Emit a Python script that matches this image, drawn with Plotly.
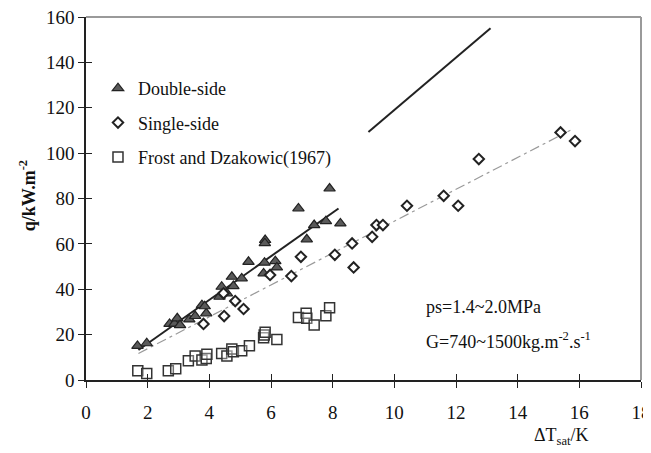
import plotly.graph_objects as go

# ---- data ----
double_x = [1.67, 1.97, 2.71, 2.87, 2.96, 3.05, 3.35, 3.54, 3.76, 3.90, 3.85, 4.33, 4.40, 4.57,
            4.73, 4.78, 5.05, 5.27, 5.76, 5.79, 5.81, 5.80, 6.14, 6.19, 6.89, 7.16, 7.40, 7.78,
            7.90, 8.25]
double_y = [15.0, 16.2, 24.7, 24.9, 27.2, 24.2, 26.7, 28.2, 33.0, 29.4, 32.5, 36.7, 41.1, 38.2,
            45.5, 41.4, 44.8, 52.1, 47.0, 51.7, 61.7, 60.3, 52.4, 49.6, 75.6, 62.0, 68.3, 70.0,
            84.4, 69.0]

single_x = [3.81, 4.48, 4.46, 4.84, 5.11, 5.97, 6.66, 6.97, 8.07, 8.63, 8.68, 9.28, 9.42, 9.63,
            10.41, 11.60, 12.07, 12.74, 15.39, 15.86]
single_y = [24.7, 28.2, 38.2, 34.8, 31.3, 46.3, 45.8, 54.3, 55.2, 60.2, 49.6, 63.1, 68.3, 68.3,
            76.8, 81.2, 76.8, 97.4, 109.1, 105.3]

frost_x = [1.68, 1.97, 2.67, 2.91, 3.32, 3.54, 3.76, 3.90, 3.92, 4.40, 4.57, 4.73, 4.78, 5.05,
           5.30, 5.76, 5.78, 5.81, 6.19, 6.89, 7.14, 7.16, 7.40, 7.78, 7.90]
frost_y = [4.1, 2.9, 4.1, 5.0, 8.5, 10.6, 8.8, 9.5, 11.3, 11.7, 10.6, 13.7, 12.5, 12.9,
           15.1, 18.6, 19.8, 21.0, 17.9, 27.6, 29.4, 27.2, 24.2, 28.3, 31.9]

double_fit_x = [1.70, 8.19]
double_fit_y = [13.2, 75.6]
single_fit_x = [1.70, 15.71]
single_fit_y = [11.7, 110.1]
corr_x = [9.16, 13.12]
corr_y = [109.3, 155.0]

x_ticks = [0, 2, 4, 6, 8, 10, 12, 14, 16, 18]
y_ticks = [0, 20, 40, 60, 80, 100, 120, 140, 160]

FONT = "Liberation Serif"

fig = go.Figure()

fig.add_trace(go.Scatter(x=double_fit_x, y=double_fit_y, mode="lines",
                         line=dict(color="#222", width=2), showlegend=False))
fig.add_trace(go.Scatter(x=single_fit_x, y=single_fit_y, mode="lines",
                         line=dict(color="#9a9a9a", width=1.2, dash="10px,4px,3px,4px"),
                         showlegend=False))
fig.add_trace(go.Scatter(x=corr_x, y=corr_y, mode="lines",
                         line=dict(color="#222", width=2), showlegend=False))

fig.add_trace(go.Scatter(x=double_x, y=double_y, mode="markers", name="Double-side",
                         legendgroup="a",
                         marker=dict(symbol="triangle-up", size=10, color="#5a5a5a",
                                     line=dict(color="#222", width=1.2))))
fig.add_trace(go.Scatter(x=single_x, y=single_y, mode="markers", name="Single-side",
                         legendgroup="b",
                         marker=dict(symbol="diamond", size=8, color="white",
                                     line=dict(color="#222", width=2))))
fig.add_trace(go.Scatter(x=frost_x, y=frost_y, mode="markers", name="Frost and Dzakowic(1967)",
                         legendgroup="c",
                         marker=dict(symbol="square", size=10, color="rgba(255,255,255,0.3)",
                                     line=dict(color="#333", width=1.5))))

# invisible trace to anchor the overlay axes (inside tick marks)
fig.add_trace(go.Scatter(x=[None], y=[None], xaxis="x2", yaxis="y2", showlegend=False,
                         hoverinfo="skip"))

tickfont = dict(family=FONT, size=19, color="#111")

fig.update_layout(
    width=643, height=445,
    margin=dict(l=78, r=10, t=9, b=73),
    paper_bgcolor="white", plot_bgcolor="white",
    font=dict(family=FONT, color="#111"),
    showlegend=True,
    legend=dict(x=0.0216, y=0.854, xanchor="left", yanchor="top",
                font=dict(family=FONT, size=18, color="#111"),
                bgcolor="rgba(0,0,0,0)", tracegroupgap=8, traceorder="grouped",
                itemwidth=30),
    xaxis=dict(range=[0, 18], tickvals=x_ticks, ticks="outside", ticklen=6, tickwidth=1.3,
               tickcolor="#222", showline=True, linecolor="#222", linewidth=1.6,
               showgrid=False, zeroline=False, tickfont=tickfont, ticklabelstandoff=8,
               automargin=False, ticklabeloverflow="allow"),
    yaxis=dict(range=[0, 160], tickvals=y_ticks, ticks="outside", ticklen=6, tickwidth=1.3,
               tickcolor="#222", showline=True, linecolor="#222", linewidth=1.6,
               showgrid=False, zeroline=False, tickfont=tickfont, automargin=False,
               ticklabeloverflow="allow"),
    # inside ticks (crossing tick marks)
    xaxis2=dict(range=[0, 18], tickvals=x_ticks, ticks="inside", ticklen=6, tickwidth=1.3,
                tickcolor="#222", showticklabels=False, showline=False, showgrid=False,
                zeroline=False, overlaying="x", anchor="y2", side="bottom", automargin=False),
    yaxis2=dict(range=[0, 160], tickvals=y_ticks, ticks="inside", ticklen=6, tickwidth=1.3,
                tickcolor="#222", showticklabels=False, showline=False, showgrid=False,
                zeroline=False, overlaying="y", anchor="x2", side="left", automargin=False),
)

# light frame on the top and right edges of the plot area
fig.add_shape(type="line", xref="x domain", yref="y domain", x0=0, x1=1, y0=1, y1=1,
              line=dict(color="#9a9a9a", width=2), layer="above")
fig.add_shape(type="line", xref="x domain", yref="y domain", x0=1, x1=1, y0=0, y1=1,
              line=dict(color="#9a9a9a", width=2), layer="above")

fig.add_annotation(x=0.856, y=-0.157, xref="paper", yref="paper",
                   text="ΔT<sub>sat</sub>/K", showarrow=False, xanchor="center",
                   yanchor="middle", font=dict(family=FONT, size=18, color="#111"))
fig.add_annotation(x=-0.104, y=0.507, xref="paper", yref="paper",
                   text="<b>q/kW.m<sup>-2</sup></b>", showarrow=False, textangle=-90,
                   xanchor="center", yanchor="middle",
                   font=dict(family=FONT, size=18, color="#111"))
fig.add_annotation(x=10.97, y=32.2, xref="x", yref="y", text="ps=1.4~2.0MPa",
                   showarrow=False, xanchor="left", yanchor="middle",
                   font=dict(family=FONT, size=18, color="#111"))
fig.add_annotation(x=10.97, y=17.6, xref="x", yref="y",
                   text="G=740~1500kg.m<sup>-2</sup>.s<sup>-1</sup>",
                   showarrow=False, xanchor="left", yanchor="middle",
                   font=dict(family=FONT, size=18, color="#111"))

fig.write_html("out.html")
